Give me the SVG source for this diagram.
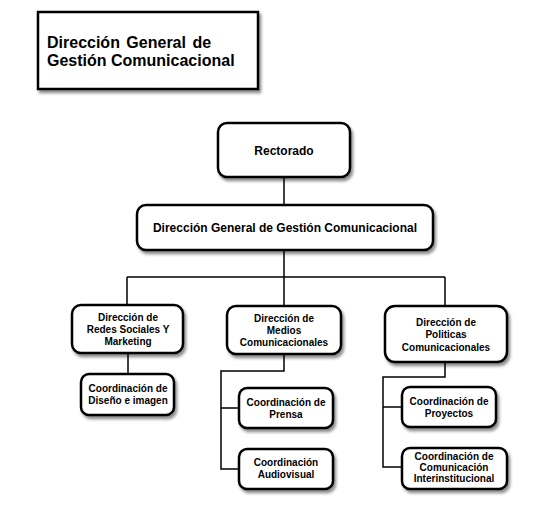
<svg xmlns="http://www.w3.org/2000/svg" width="549" height="513" viewBox="0 0 549 513">
<defs>
<filter id="sh" x="-10%" y="-10%" width="130%" height="140%">
<feGaussianBlur in="SourceAlpha" stdDeviation="1.5"/>
<feOffset dx="2" dy="3" result="b"/>
<feComponentTransfer><feFuncA type="linear" slope="0.45"/></feComponentTransfer>
<feMerge><feMergeNode/><feMergeNode in="SourceGraphic"/></feMerge>
</filter>
</defs>
<style>
.box{fill:#fff;stroke:#000;stroke-width:2.5;filter:url(#sh)}
.t{font-family:"Liberation Sans",Arial,sans-serif;font-weight:bold;fill:#000;text-anchor:middle}
.s{font-size:10px}
.m{font-size:12px}
.c{fill:none;stroke:#000;stroke-width:1.5}
</style>
<rect width="549" height="513" fill="#fff"/>
<g id="title">
<rect class="box" x="38" y="12" width="220" height="77" style="filter:url(#sh)"/>
<text x="47" y="48" style="font-family:'Liberation Sans',Arial,sans-serif;font-weight:bold;font-size:16px;word-spacing:2px">Dirección General de</text>
<text x="47" y="66" style="font-family:'Liberation Sans',Arial,sans-serif;font-weight:bold;font-size:16px">Gestión Comunicacional</text>
</g>
<g id="connectors">
<path class="c" d="M284 177V205"/>
<path class="c" d="M284 250V277M127 277H445M127 277V305M284 277V306M445 277V306"/>
<path class="c" d="M128 353V374"/>
<path class="c" d="M284 354V371H221V469H239M221 408H239"/>
<path class="c" d="M445 362V377H383V467H402M383 407H402"/>
</g>
<g id="rectorado">
<rect class="box" x="218" y="123" width="132" height="54" rx="9"/>
<text class="t m" x="284" y="155">Rectorado</text>
</g>
<g id="dggc">
<rect class="box" x="137" y="205" width="296" height="45" rx="9"/>
<text class="t m" x="285" y="232">Dirección General de Gestión Comunicacional</text>
</g>
<g id="redes">
<rect class="box" x="72" y="305" width="111" height="48" rx="9"/>
<text class="t s" x="128" y="321">Dirección de</text>
<text class="t s" x="128" y="333">Redes Sociales Y</text>
<text class="t s" x="128" y="345">Marketing</text>
</g>
<g id="diseno">
<rect class="box" x="81" y="374" width="93" height="41" rx="8"/>
<text class="t s" x="128" y="392">Coordinación de</text>
<text class="t s" x="128" y="404">Diseño e imagen</text>
</g>
<g id="medios">
<rect class="box" x="227" y="306" width="114" height="48" rx="9"/>
<text class="t s" x="284" y="322">Dirección de</text>
<text class="t s" x="284" y="334">Medios</text>
<text class="t s" x="284" y="346">Comunicacionales</text>
</g>
<g id="prensa">
<rect class="box" x="239" y="388" width="94" height="40" rx="8"/>
<text class="t s" x="286" y="406">Coordinación de</text>
<text class="t s" x="286" y="418">Prensa</text>
</g>
<g id="audiovisual">
<rect class="box" x="239" y="449" width="94" height="40" rx="8"/>
<text class="t s" x="286" y="466">Coordinación</text>
<text class="t s" x="286" y="478">Audiovisual</text>
</g>
<g id="politicas">
<rect class="box" x="385" y="306" width="122" height="56" rx="10"/>
<text class="t s" x="446" y="326">Dirección de</text>
<text class="t s" x="446" y="338">Politicas</text>
<text class="t s" x="446" y="351">Comunicacionales</text>
</g>
<g id="proyectos">
<rect class="box" x="402" y="387" width="94" height="40" rx="8"/>
<text class="t s" x="449" y="405">Coordinación de</text>
<text class="t s" x="449" y="417">Proyectos</text>
</g>
<g id="interinstitucional">
<rect class="box" x="402" y="448" width="105" height="41" rx="8"/>
<text class="t s" x="454" y="460">Coordinación de</text>
<text class="t s" x="454" y="471">Comunicación</text>
<text class="t s" x="454" y="482">Interinstitucional</text>
</g>
</svg>
